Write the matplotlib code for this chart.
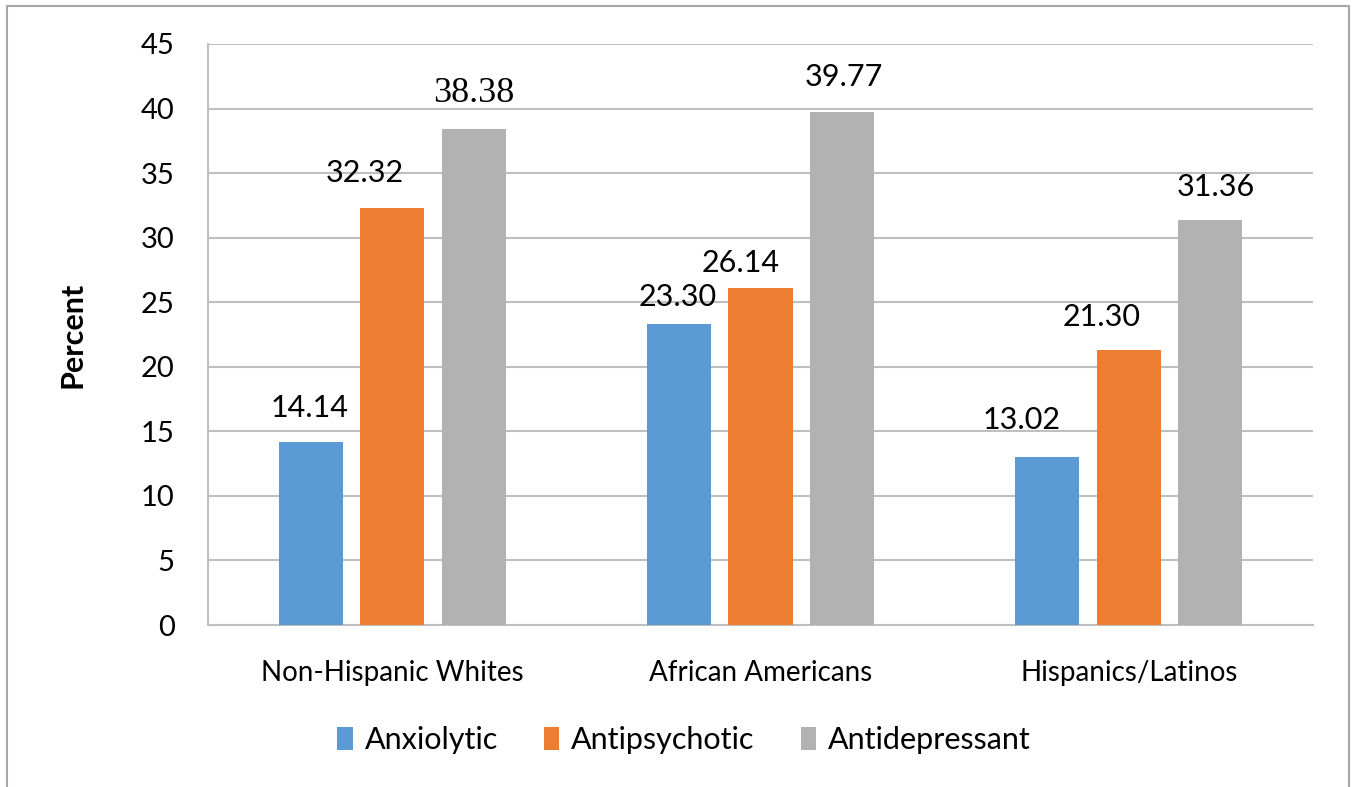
import matplotlib
matplotlib.use("Agg")
import matplotlib.pyplot as plt
from matplotlib.lines import Line2D
import numpy as np

groups = ["Non-Hispanic Whites", "African Americans", "Hispanics/Latinos"]
series = ["Anxiolytic", "Antipsychotic", "Antidepressant"]
anxiolytic = [14.14, 23.30, 13.02]
antipsychotic = [32.32, 26.14, 21.30]
antidepressant = [38.38, 39.77, 31.36]
colors = ["#5B9BD5", "#ED7D31", "#B2B2B2"]

# label nudges in pixels (dx, dy) from the top centre of each bar
label_nudge = [
    [(-1, 34), (-1, 27), (-26, 37)],
    [(-27, 35), (-20, 25), (-27, 33)],
    [(0, 36), (2, 35), (6, 33)],
]

plt.rcParams["font.family"] = ["Lato", "DejaVu Sans"]

fig = plt.figure(figsize=(13.57, 7.87), dpi=100)
ax = fig.add_axes([208 / 1357, 1 - 625 / 787, 1105 / 1357, 581 / 787])

x = np.arange(len(groups))
width = 0.174
step = 0.221
values = [anxiolytic, antipsychotic, antidepressant]

for i, (name, vals, col) in enumerate(zip(series, values, colors)):
    bars = ax.bar(x + (i - 1) * step, vals, width, color=col, label=name, zorder=3)
    for j, b in enumerate(bars):
        dx, dy = label_nudge[i][j]
        v = vals[j]
        kw = dict(fontsize=22, color="black")
        if i == 2 and j == 0:
            kw = dict(fontsize=26, color="black", family="Liberation Serif")
        ax.annotate(f"{v:.2f}", (b.get_x() + b.get_width() / 2, v),
                    xytext=(dx * 0.72, dy * 0.72), textcoords="offset points",
                    ha="center", va="center", **kw)

ax.set_xlim(-0.5, 2.5)
ax.set_ylim(0, 45)
ax.set_yticks(range(0, 46, 5))
ax.set_xticks(x)
ax.set_xticklabels(groups, fontsize=20)
ax.tick_params(axis="y", labelsize=21, length=0, pad=24)
ax.tick_params(axis="x", length=0, pad=25)
ax.yaxis.grid(True, color="#BFBFBF", linewidth=1.5, zorder=0)
ax.set_axisbelow(True)
for s in ["top", "right"]:
    ax.spines[s].set_visible(False)
for s in ["left", "bottom"]:
    ax.spines[s].set_color("#BFBFBF")
    ax.spines[s].set_linewidth(1.5)

fig.text(72 / 1357, 1 - 335 / 787, "Percent", rotation=90, fontsize=22,
         fontweight="bold", ha="center", va="center")

fig.legend(loc="center", bbox_to_anchor=(684 / 1357, 1 - 740 / 787), ncol=3,
           frameon=False, fontsize=22, handlelength=0.5, handleheight=0.8,
           handletextpad=0.4, columnspacing=1.5)

# outer frame, open at the bottom
fig.add_artist(Line2D([7 / 1357, 7 / 1357, 1349 / 1357, 1349 / 1357],
                      [-0.05, 1 - 6 / 787, 1 - 6 / 787, -0.05],
                      transform=fig.transFigure, color="#A6A6A6", linewidth=1.5))

fig.savefig("out.png", dpi=100)
